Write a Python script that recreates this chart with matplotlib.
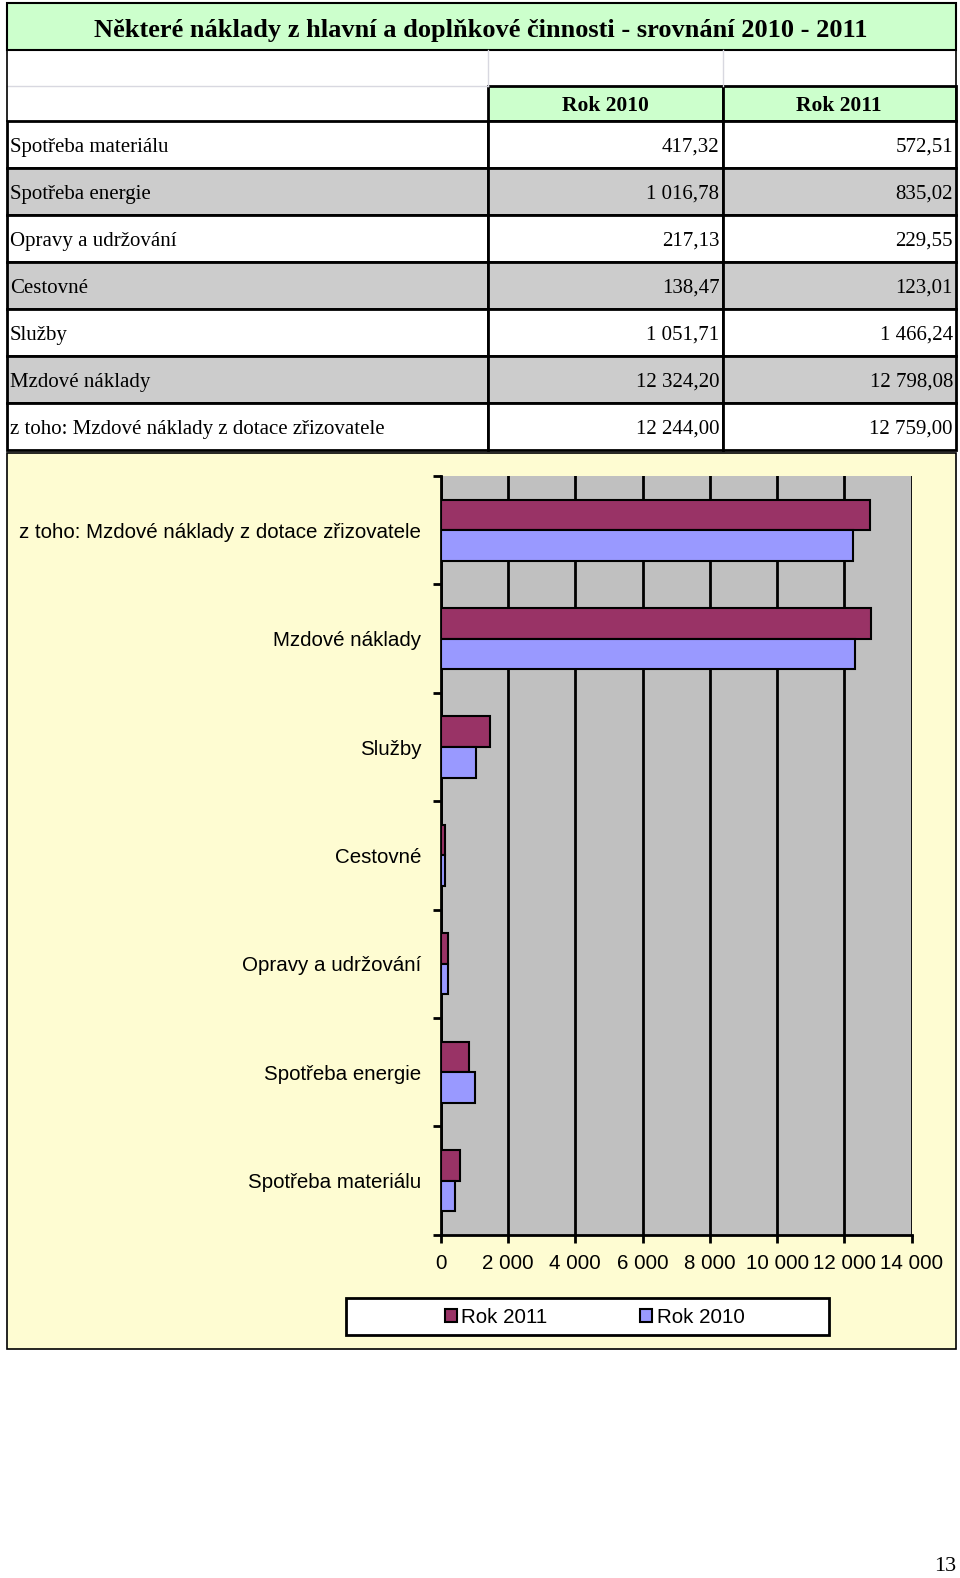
import matplotlib
matplotlib.use('Agg')
import matplotlib.pyplot as plt
from matplotlib.patches import Rectangle
from matplotlib.ticker import FuncFormatter, FixedLocator
import numpy as np

title = 'Některé náklady z hlavní a doplňkové činnosti - srovnání 2010 - 2011'
years = ['Rok 2010', 'Rok 2011']
categories = ['Spotřeba materiálu', 'Spotřeba energie', 'Opravy a udržování',
              'Cestovné', 'Služby', 'Mzdové náklady',
              'z toho: Mzdové náklady z dotace zřizovatele']
table_labels = categories[:-1] + ['z toho: Mzdové náklady z dotace zřizovatele']
values_2010 = [417.32, 1016.78, 217.13, 138.47, 1051.71, 12324.20, 12244.00]
values_2011 = [572.51, 835.02, 229.55, 123.01, 1466.24, 12798.08, 12759.00]
page_number = '13'


def cz_num(v, dec=2):
    s = f'{v:,.{dec}f}'
    return s.replace(',', ' ').replace('.', ',')


W, H = 960, 1578
# layout coordinates below are measured on a 954 x 1568 view of the page
LW, LH = 954, 1568
fig = plt.figure(figsize=(W / 100, H / 100), dpi=100)
fig.patch.set_facecolor('white')

bg = fig.add_axes([0, 0, 1, 1], zorder=0)
bg.set_xlim(0, LW)
bg.set_ylim(LH, 0)
bg.axis('off')

serif = ['Liberation Serif', 'DejaVu Serif']
sans = ['Liberation Sans', 'DejaVu Sans']
green = '#ccffcc'
gray_row = '#cccccc'

# title row
bg.add_patch(Rectangle((7, 3), 943, 47, facecolor=green, edgecolor='black', lw=1.5))
bg.text(478, 30, title, family=serif, fontsize=19, fontweight='bold',
        ha='center', va='center')

# empty row
for x in (485, 718):
    bg.plot([x, x], [50, 85], color='#d8d8e0', lw=1)
bg.plot([7, 485], [85, 85], color='#d8d8e0', lw=1)
bg.plot([7, 7], [50, 120], color='black', lw=1.2)
bg.plot([950, 950], [50, 120], color='black', lw=1.2)

# header row
col_x = [7, 485, 718, 950]
for j, yr in enumerate(years):
    x0, x1 = col_x[j + 1], col_x[j + 2]
    bg.add_patch(Rectangle((x0, 85), x1 - x0, 35, facecolor=green,
                           edgecolor='black', lw=2))
    bg.text((x0 + x1) / 2, 105, yr, family=serif, fontsize=15.5,
            fontweight='bold', ha='center', va='center')

# data rows
row_top = 120
row_h = 46.7
for i, lab in enumerate(table_labels):
    y0 = row_top + i * row_h
    fc = gray_row if i % 2 == 1 else 'white'
    for j in range(3):
        x0, x1 = col_x[j], col_x[j + 1]
        bg.add_patch(Rectangle((x0, y0), x1 - x0, row_h, facecolor=fc,
                               edgecolor='black', lw=2))
    yc = y0 + row_h / 2 + 3
    bg.text(10, yc, lab, family=serif, fontsize=15, ha='left', va='center')
    bg.text(715, yc, cz_num(values_2010[i]), family=serif, fontsize=15,
            ha='right', va='center')
    bg.text(947, yc, cz_num(values_2011[i]), family=serif, fontsize=15,
            ha='right', va='center')

# chart area and legend box
bg.add_patch(Rectangle((7, 450), 943, 890, facecolor='#fefcd2',
                       edgecolor='black', lw=1.2))
bg.add_patch(Rectangle((344, 1290), 480, 37, facecolor='white',
                       edgecolor='black', lw=2))

bg.text(950, 1557, page_number, family=serif, fontsize=16, ha='right', va='center')

# bar chart
px0, px1, py0, py1 = 438, 906, 473, 1227
ax = fig.add_axes([px0 / LW, 1 - py1 / LH, (px1 - px0) / LW, (py1 - py0) / LH],
                  zorder=2)
ax.set_facecolor('#c0c0c0')
y = np.arange(len(categories))
bh = 0.283
b11 = ax.barh(y + bh / 2, values_2011, height=bh, color='#993366',
              edgecolor='black', lw=1.5, label='Rok 2011', zorder=3)
b10 = ax.barh(y - bh / 2, values_2010, height=bh, color='#9999ff',
              edgecolor='black', lw=1.5, label='Rok 2010', zorder=3)
ax.set_xlim(0, 14000)
ax.set_ylim(-0.5, len(categories) - 0.5)

ax.xaxis.set_major_locator(FixedLocator(np.arange(0, 14001, 2000)))
ax.xaxis.set_major_formatter(FuncFormatter(lambda v, p: cz_num(v, 0)))
ax.grid(axis='x', color='black', lw=2, zorder=1)
ax.set_axisbelow(True)

ax.set_yticks(y)
ax.set_yticklabels(categories, family=sans, fontsize=14.8)
ax.set_yticks(np.arange(-0.5, len(categories), 1), minor=True)
ax.tick_params(axis='y', which='major', length=0, pad=14)
ax.tick_params(axis='y', which='minor', length=6, width=2, direction='out')
ax.tick_params(axis='x', length=6, width=2, direction='out', pad=8,
               labelsize=14.8)
for lab in ax.get_xticklabels():
    lab.set_family(sans)

for s in ('top', 'right'):
    ax.spines[s].set_visible(False)
for s in ('left', 'bottom'):
    ax.spines[s].set_linewidth(2)

leg = ax.legend(handles=[b11, b10], loc='center', ncol=2,
                bbox_to_anchor=(591 / LW, 1 - 1309 / LH),
                bbox_transform=fig.transFigure, frameon=False,
                prop={'family': sans, 'size': 14.8},
                handlelength=0.6, handleheight=0.6, handletextpad=0.2,
                columnspacing=4.5)

fig.savefig('out.png', dpi=100)
